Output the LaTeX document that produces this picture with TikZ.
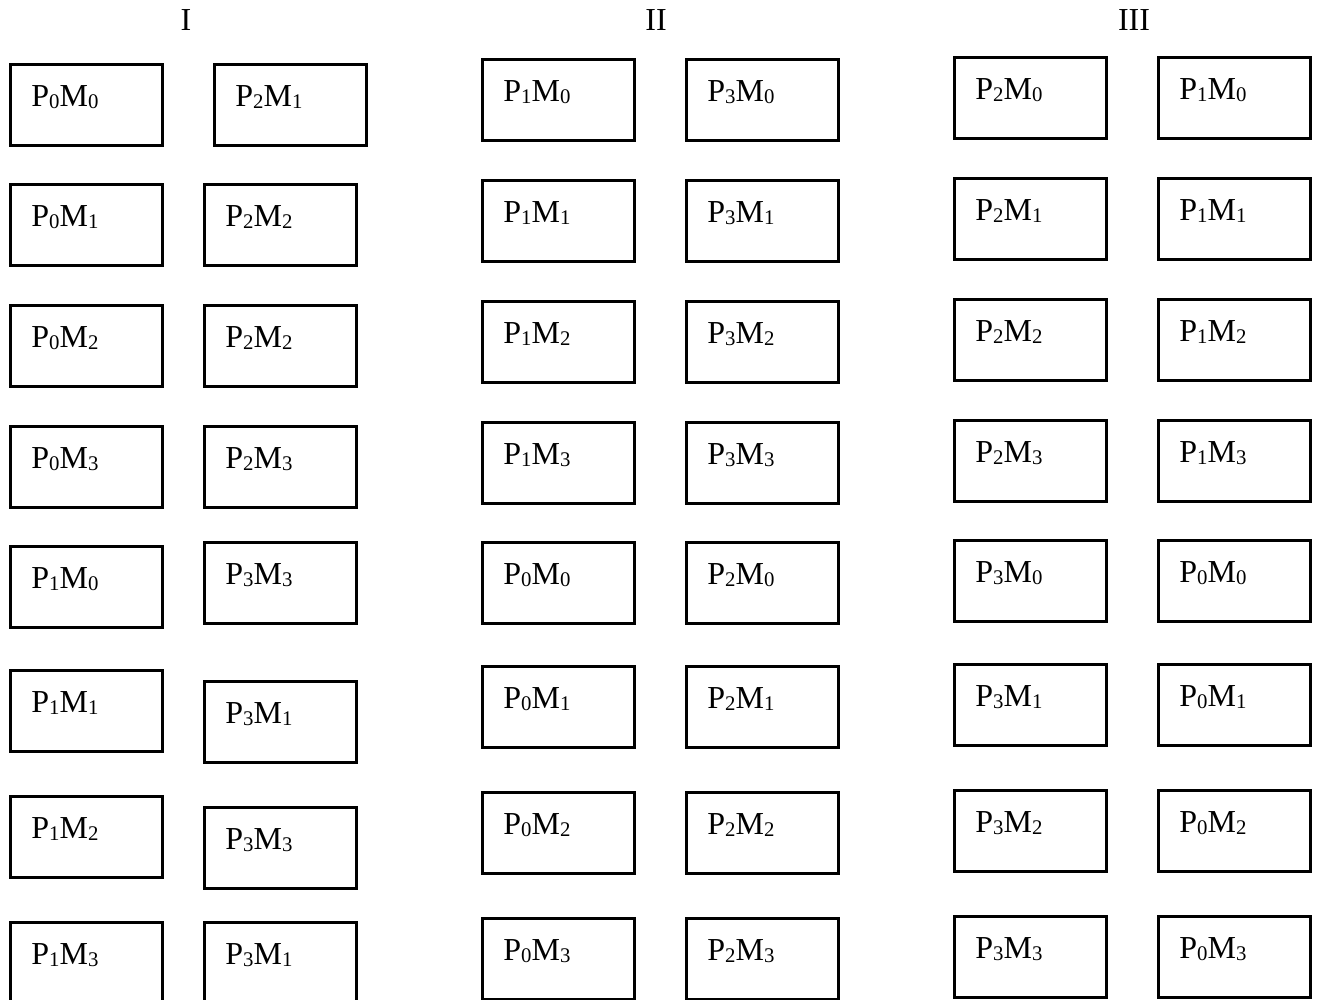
\documentclass[tikz,border=0pt]{standalone}
\usepackage{fontspec}
\setmainfont{Liberation Serif}
\newcommand\pmsub[1]{\raisebox{-0.8pt}{\fontsize{10.4pt}{12pt}\selectfont #1}}
\newcommand\pmlabel[2]{P\pmsub{#1}M\pmsub{#2}}
\tikzset{
  cell/.style={draw, line width=1.1pt, rectangle, anchor=north west,
    minimum width=76pt, minimum height=40.5pt, inner sep=0pt, outer sep=0pt},
  lbl/.style={anchor=base west, inner sep=0pt, font=\fontsize{16pt}{19pt}\selectfont},
  ttl/.style={anchor=base, inner sep=0pt, font=\fontsize{16pt}{19pt}\selectfont}
}
\newcommand\pmbox[5]{%
  \node[cell] (#1) at (#2+0.5,#3+0.5) {};
  \node[lbl] (#1t) at (#2+21,#3+42.5) {\pmlabel{#4}{#5}};}
\begin{document}
\begin{tikzpicture}[x=0.5pt,y=-0.5pt]
\useasboundingbox (0,0) rectangle (1318,1000);
\clip (0,0) rectangle (1318,1000);
% titles
\node[ttl] (tI) at (186,31) {I};
\node[ttl] (tII) at (656,31) {II};
\node[ttl] (tIII) at (1134,31) {III};
% column I left
\pmbox{a1}{10}{64}{0}{0}
\pmbox{a2}{10}{184}{0}{1}
\pmbox{a3}{10}{305}{0}{2}
\pmbox{a4}{10}{426}{0}{3}
\pmbox{a5}{10}{546}{1}{0}
\pmbox{a6}{10}{670}{1}{1}
\pmbox{a7}{10}{796}{1}{2}
\pmbox{a8}{10}{922}{1}{3}
% column I right
\pmbox{b1}{214}{64}{2}{1}
\pmbox{b2}{204}{184}{2}{2}
\pmbox{b3}{204}{305}{2}{2}
\pmbox{b4}{204}{426}{2}{3}
\pmbox{b5}{204}{542}{3}{3}
\pmbox{b6}{204}{681}{3}{1}
\pmbox{b7}{204}{807}{3}{3}
\pmbox{b8}{204}{922}{3}{1}
% column II left
\pmbox{c1}{482}{59}{1}{0}
\pmbox{c2}{482}{180}{1}{1}
\pmbox{c3}{482}{301}{1}{2}
\pmbox{c4}{482}{422}{1}{3}
\pmbox{c5}{482}{542}{0}{0}
\pmbox{c6}{482}{666}{0}{1}
\pmbox{c7}{482}{792}{0}{2}
\pmbox{c8}{482}{918}{0}{3}
% column II right
\pmbox{d1}{686}{59}{3}{0}
\pmbox{d2}{686}{180}{3}{1}
\pmbox{d3}{686}{301}{3}{2}
\pmbox{d4}{686}{422}{3}{3}
\pmbox{d5}{686}{542}{2}{0}
\pmbox{d6}{686}{666}{2}{1}
\pmbox{d7}{686}{792}{2}{2}
\pmbox{d8}{686}{918}{2}{3}
% column III left
\pmbox{e1}{954}{57}{2}{0}
\pmbox{e2}{954}{178}{2}{1}
\pmbox{e3}{954}{299}{2}{2}
\pmbox{e4}{954}{420}{2}{3}
\pmbox{e5}{954}{540}{3}{0}
\pmbox{e6}{954}{664}{3}{1}
\pmbox{e7}{954}{790}{3}{2}
\pmbox{e8}{954}{916}{3}{3}
% column III right
\pmbox{f1}{1158}{57}{1}{0}
\pmbox{f2}{1158}{178}{1}{1}
\pmbox{f3}{1158}{299}{1}{2}
\pmbox{f4}{1158}{420}{1}{3}
\pmbox{f5}{1158}{540}{0}{0}
\pmbox{f6}{1158}{664}{0}{1}
\pmbox{f7}{1158}{790}{0}{2}
\pmbox{f8}{1158}{916}{0}{3}
\end{tikzpicture}
\end{document}
